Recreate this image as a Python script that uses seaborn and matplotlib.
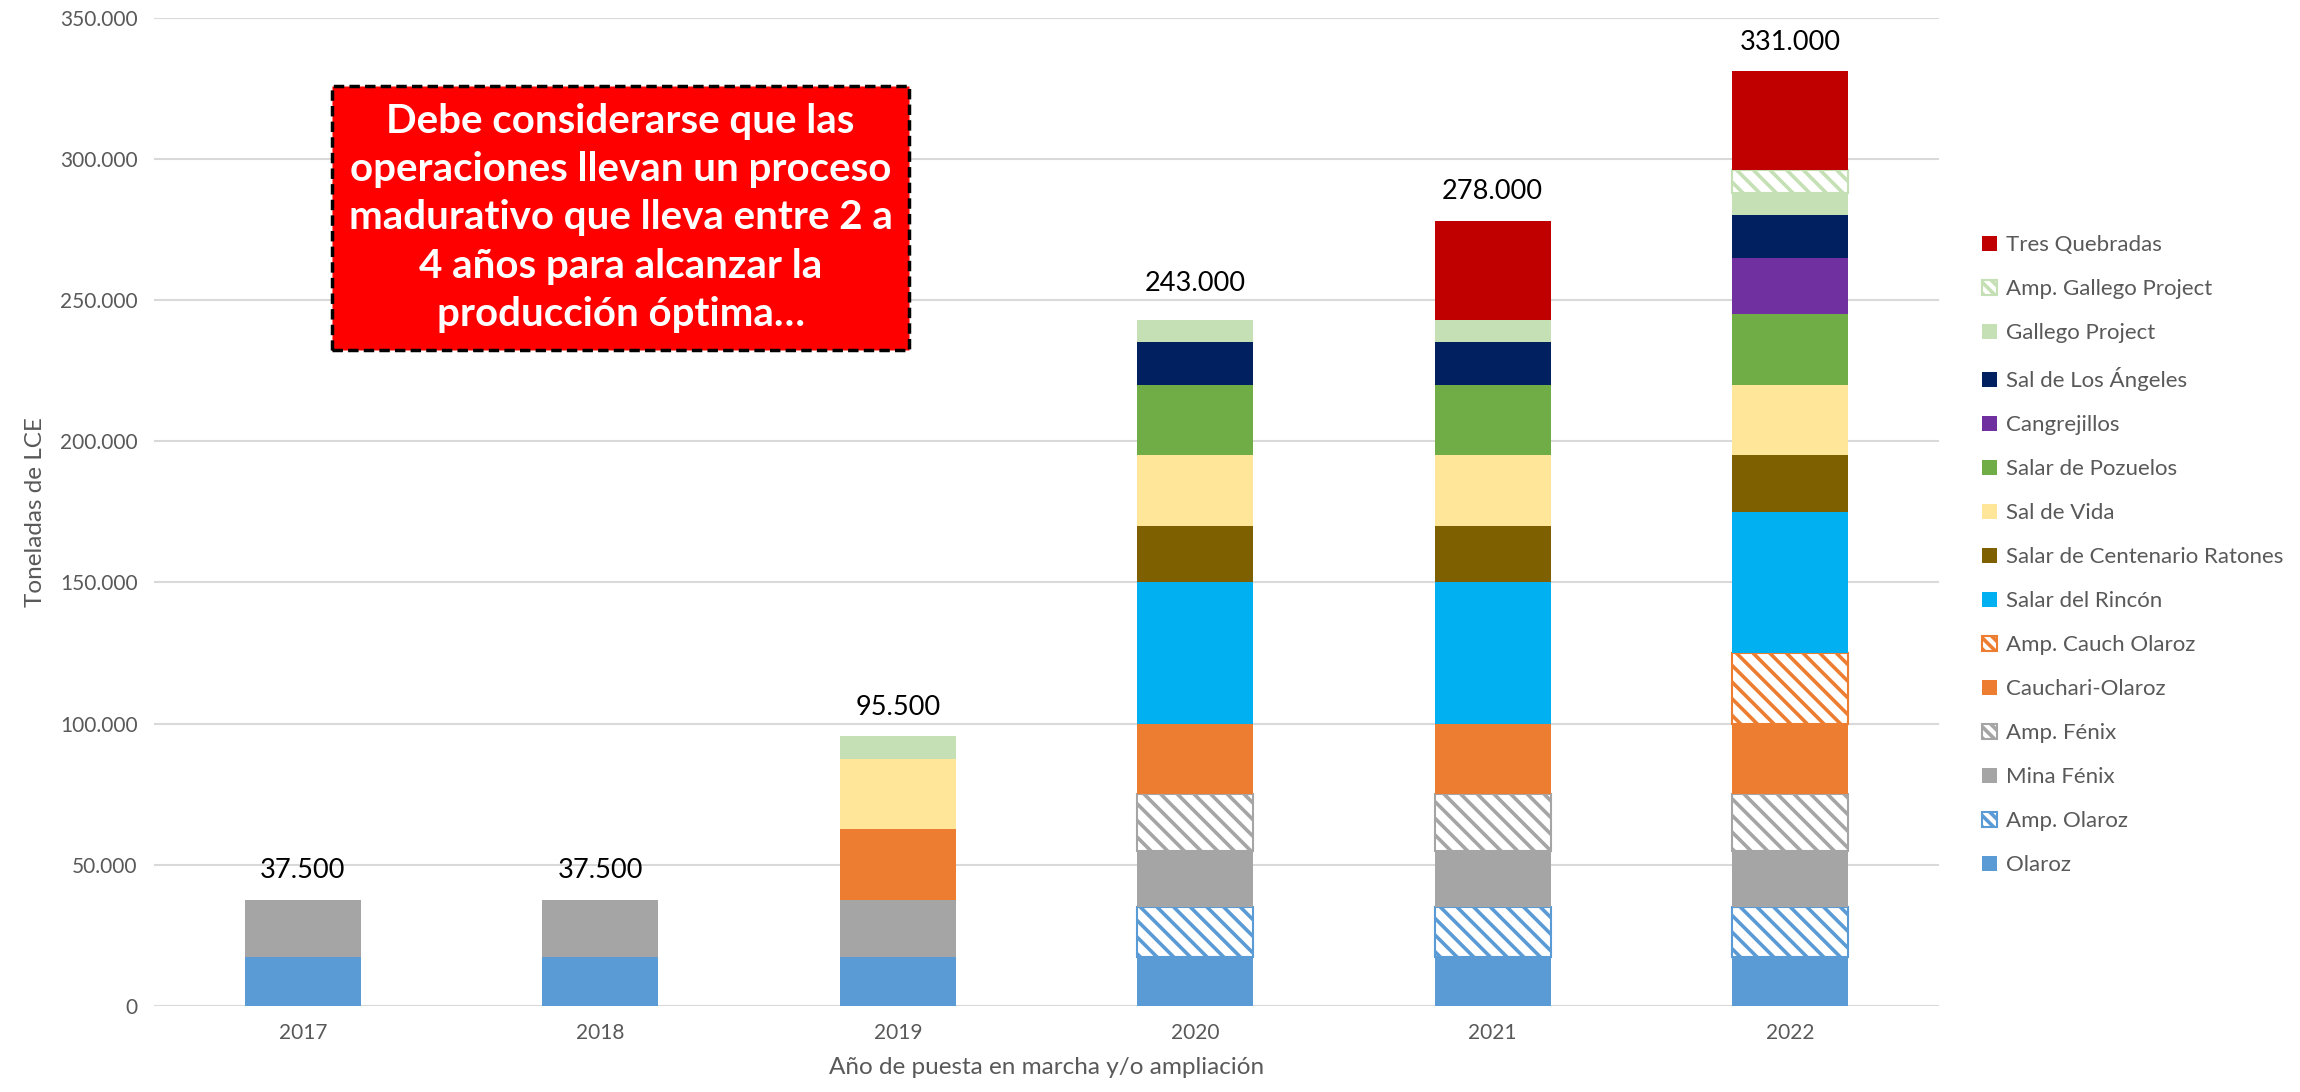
import numpy as np
import pandas as pd
import matplotlib
matplotlib.use("Agg")
import matplotlib.pyplot as plt
from matplotlib.patches import Patch
from matplotlib.ticker import FuncFormatter
import seaborn as sns

# --- data (toneladas de LCE por proyecto, apiladas de abajo hacia arriba) ---
years = ["2017", "2018", "2019", "2020", "2021", "2022"]

olaroz         = [17500, 17500, 17500, 17500, 17500, 17500]
amp_olaroz     = [0, 0, 0, 17500, 17500, 17500]
mina_fenix     = [20000, 20000, 20000, 20000, 20000, 20000]
amp_fenix      = [0, 0, 0, 20000, 20000, 20000]
cauchari       = [0, 0, 25000, 25000, 25000, 25000]
amp_cauch      = [0, 0, 0, 0, 0, 25000]
rincon         = [0, 0, 0, 50000, 50000, 50000]
centenario     = [0, 0, 0, 20000, 20000, 20000]
sal_de_vida    = [0, 0, 25000, 25000, 25000, 25000]
pozuelos       = [0, 0, 0, 25000, 25000, 25000]
cangrejillos   = [0, 0, 0, 0, 0, 20000]
los_angeles    = [0, 0, 0, 15000, 15000, 15000]
gallego        = [0, 0, 8000, 8000, 8000, 8000]
amp_gallego    = [0, 0, 0, 0, 0, 8000]
tres_quebradas = [0, 0, 0, 0, 35000, 35000]

totals = [37500, 37500, 95500, 243000, 278000, 331000]

series = [
    ("Olaroz", olaroz, "#5B9BD5", False),
    ("Amp. Olaroz", amp_olaroz, "#5B9BD5", True),
    ("Mina Fénix", mina_fenix, "#A5A5A5", False),
    ("Amp. Fénix", amp_fenix, "#A5A5A5", True),
    ("Cauchari-Olaroz", cauchari, "#ED7D31", False),
    ("Amp. Cauch Olaroz", amp_cauch, "#ED7D31", True),
    ("Salar del Rincón", rincon, "#00B0F0", False),
    ("Salar de Centenario Ratones", centenario, "#7F6000", False),
    ("Sal de Vida", sal_de_vida, "#FFE699", False),
    ("Salar de Pozuelos", pozuelos, "#70AD47", False),
    ("Cangrejillos", cangrejillos, "#7030A0", False),
    ("Sal de Los Ángeles", los_angeles, "#002060", False),
    ("Gallego Project", gallego, "#C5E0B4", False),
    ("Amp. Gallego Project", amp_gallego, "#C5E0B4", True),
    ("Tres Quebradas", tres_quebradas, "#C00000", False),
]

sns.set_theme(style="white")
plt.rcParams["font.family"] = ["Lato", "DejaVu Sans"]
plt.rcParams["hatch.linewidth"] = 2.6

TXT = "#595959"
HATCH = "\\\\"
fig = plt.figure(figsize=(23, 10.92), dpi=100)
ax = fig.add_axes([0.067, 0.0788, 0.776, 0.905])

bottom = np.zeros(len(years))
for name, vals, color, hatched in series:
    vals = np.array(vals, dtype=float)
    mask = vals > 0
    if mask.any():
        df = pd.DataFrame({"year": np.array(years)[mask], "value": vals[mask]})
        n_before = len(ax.patches)
        sns.barplot(data=df, x="year", y="value", order=years, width=0.39,
                    color=color, saturation=1, errorbar=None, ax=ax)
        # lift each new segment onto the running stack
        for patch, base in zip(ax.patches[n_before:], bottom[mask]):
            patch.set_y(base)
            if hatched:
                patch.set_facecolor("white")
                patch.set_edgecolor(color)
                patch.set_hatch(HATCH)
                patch.set_linewidth(1.5)
            else:
                patch.set_linewidth(0)
    bottom += vals

label_offsets = [12, 12, 12, 17, 12, 12]
for i, t in enumerate(totals):
    ax.annotate(f"{t:,}".replace(",", "."), (i, t), xytext=(0, label_offsets[i]),
                textcoords="offset points", ha="center", va="bottom",
                fontsize=19.5, color="black")

ax.set_xlim(-0.5, 5.5)
ax.set_ylim(0, 350000)
ax.set_yticks(np.arange(0, 350001, 50000))
ax.yaxis.set_major_formatter(FuncFormatter(lambda v, p: f"{int(v):,}".replace(",", ".")))
ax.grid(axis="y", color="#D9D9D9", linewidth=1.5)
ax.set_axisbelow(True)
for s in ax.spines.values():
    s.set_visible(False)
ax.tick_params(axis="both", length=0, labelsize=15, labelcolor=TXT, pad=12)
ax.set_xlabel("Año de puesta en marcha y/o ampliación", fontsize=17.5, color=TXT, labelpad=10)
ax.set_ylabel("Toneladas de LCE", fontsize=17.5, color=TXT, labelpad=10)

handles = []
for name, vals, color, hatched in reversed(series):
    if hatched:
        handles.append(Patch(facecolor="white", edgecolor=color, hatch="\\\\\\", linewidth=1.5, label=name))
    else:
        handles.append(Patch(facecolor=color, edgecolor=color, linewidth=0, label=name))
leg = fig.legend(handles=handles, loc="upper left", bbox_to_anchor=(0.853, 0.803),
                 frameon=False, fontsize=16, labelcolor=TXT, handlelength=0.7,
                 handleheight=0.7, handletextpad=0.4, labelspacing=1.08)

note = ("Debe considerarse que las\noperaciones llevan un proceso\n"
        "madurativo que lleva entre 2 a\n4 años para alcanzar la\nproducción óptima…")
fig.text(0.2698, 0.8005, note, ha="center", va="center", color="white",
         fontsize=29, fontweight="bold", linespacing=1.38,
         bbox=dict(boxstyle="square,pad=0.42", facecolor="#FF0000", edgecolor="black",
                   linewidth=2.5, linestyle=(0, (3, 1.5))))

fig.savefig("out.png", dpi=100)
